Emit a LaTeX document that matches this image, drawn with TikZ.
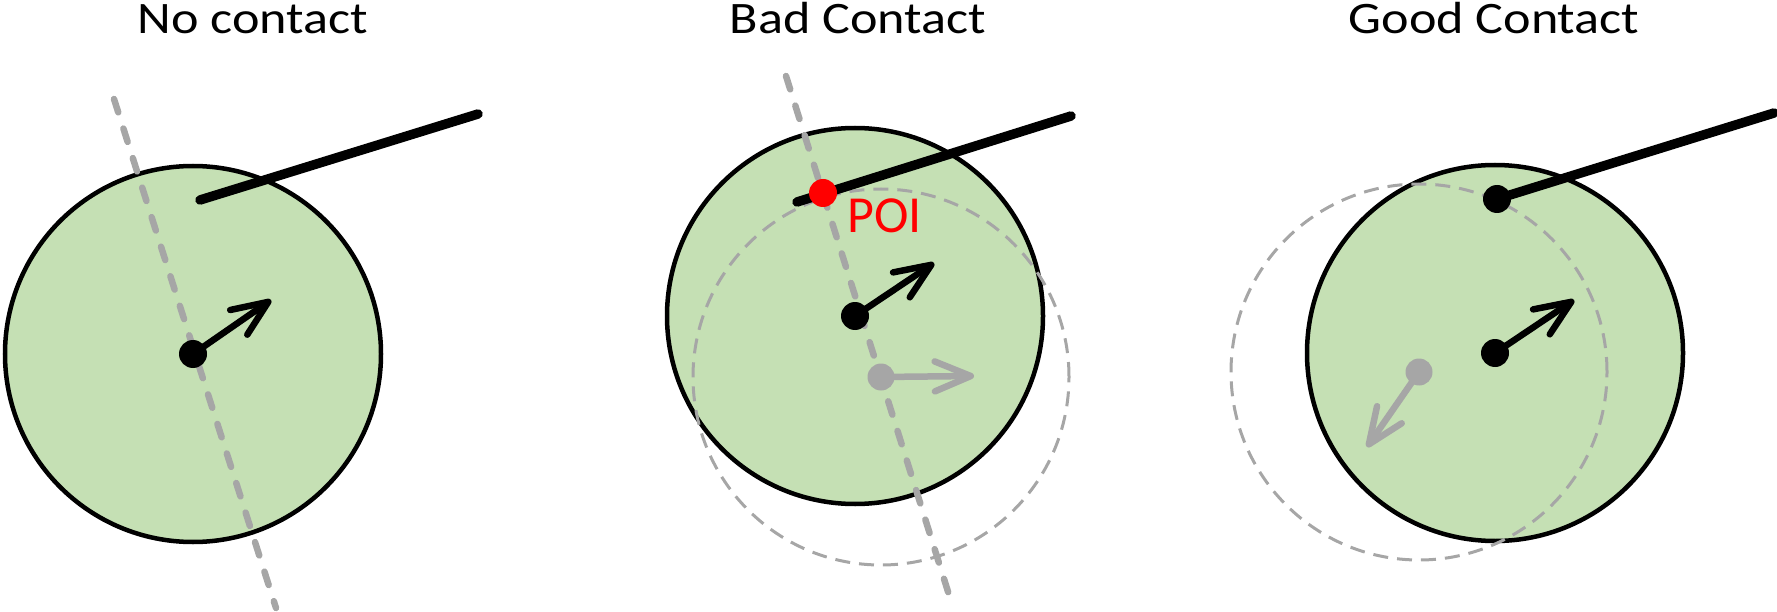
\documentclass[tikz,border=0pt]{standalone}
\usepackage{fontspec}
\setmainfont{Carlito}
\newfontfamily\titlefont[FakeStretch=1.16]{Carlito}
\usepackage{xcolor}
\definecolor{ballgreen}{RGB}{197,224,180}
\definecolor{ghost}{RGB}{166,166,166}
\definecolor{poired}{RGB}{255,0,0}
\usepackage{tikz}
\usetikzlibrary{arrows.meta}

\tikzset{
  ball/.style={fill=ballgreen, draw=black, line width=4.5pt},
  ghostball/.style={draw=ghost, line width=3pt, dash pattern=on 15pt off 9pt},
  normline/.style={draw=ghost, line width=6.5pt, line cap=round, dash pattern=on 14pt off 17pt},
  seg/.style={line width=9.5pt, line cap=round},
  vel/.style={line width=6.5pt, -{Straight Barb[length=36pt,width=30pt,round]}},
  title/.style={font=\titlefont\fontsize{45}{54}\selectfont, anchor=base, inner sep=0pt},
}

\begin{document}
\begin{tikzpicture}[x=1pt,y=-1pt]
  \useasboundingbox (0,0) rectangle (1777,612);

  \node[title] (t1) at (253,34) {No contact};
  \node[title] (t2) at (858,34) {Bad Contact};
  \node[title] (t3) at (1494,34) {Good Contact};

  % no contact
  \coordinate (c1) at (193,354);
  \coordinate (v1) at (271,300);
  \coordinate (n1a) at (114,99);
  \coordinate (n1b) at (276,608);
  \coordinate (s1a) at (200,200);
  \coordinate (s1b) at (478,114);
  \draw[ball] (c1) circle[radius=188pt];
  \draw[normline] (n1a) -- (n1b);
  \draw[seg] (s1a) -- (s1b);
  \fill (c1) circle[radius=14pt];
  \draw[vel] (c1) -- (v1);

  % bad contact
  \coordinate (c2) at (855,316);
  \coordinate (v2) at (934,263);
  \coordinate (g2) at (881,377);
  \coordinate (w2) at (974,376);
  \coordinate (n2a) at (786,76);
  \coordinate (n2b) at (950,598);
  \coordinate (s2a) at (797,202);
  \coordinate (s2b) at (1071,116);
  \coordinate (poi) at (823,193);
  \draw[ball] (c2) circle[radius=188pt];
  \draw[ghostball] (g2) circle[radius=188pt];
  \draw[normline] (n2a) -- (n2b);
  \draw[seg] (s2a) -- (s2b);
  \fill[ghost] (g2) circle[radius=13.5pt];
  \draw[vel,ghost] (g2) -- (w2);
  \fill (c2) circle[radius=14pt];
  \draw[vel] (c2) -- (v2);
  \fill[poired] (poi) circle[radius=14pt];
  \node[poired, font=\fontsize{52}{60}\selectfont, anchor=base west, inner sep=0pt] (poilabel) at (847,233) {POI};

  % good contact
  \coordinate (c3) at (1495,353);
  \coordinate (v3) at (1574,300);
  \coordinate (g3) at (1419,372);
  \coordinate (w3) at (1367,447);
  \coordinate (s3a) at (1497,199);
  \coordinate (s3b) at (1774,113);
  \draw[ball] (c3) circle[radius=188pt];
  \draw[ghostball] (g3) circle[radius=188pt];
  \fill[ghost] (g3) circle[radius=13.5pt];
  \draw[vel,ghost] (g3) -- (w3);
  \draw[seg] (s3a) -- (s3b);
  \fill (s3a) circle[radius=14pt];
  \fill (c3) circle[radius=14pt];
  \draw[vel] (c3) -- (v3);
\end{tikzpicture}
\end{document}
